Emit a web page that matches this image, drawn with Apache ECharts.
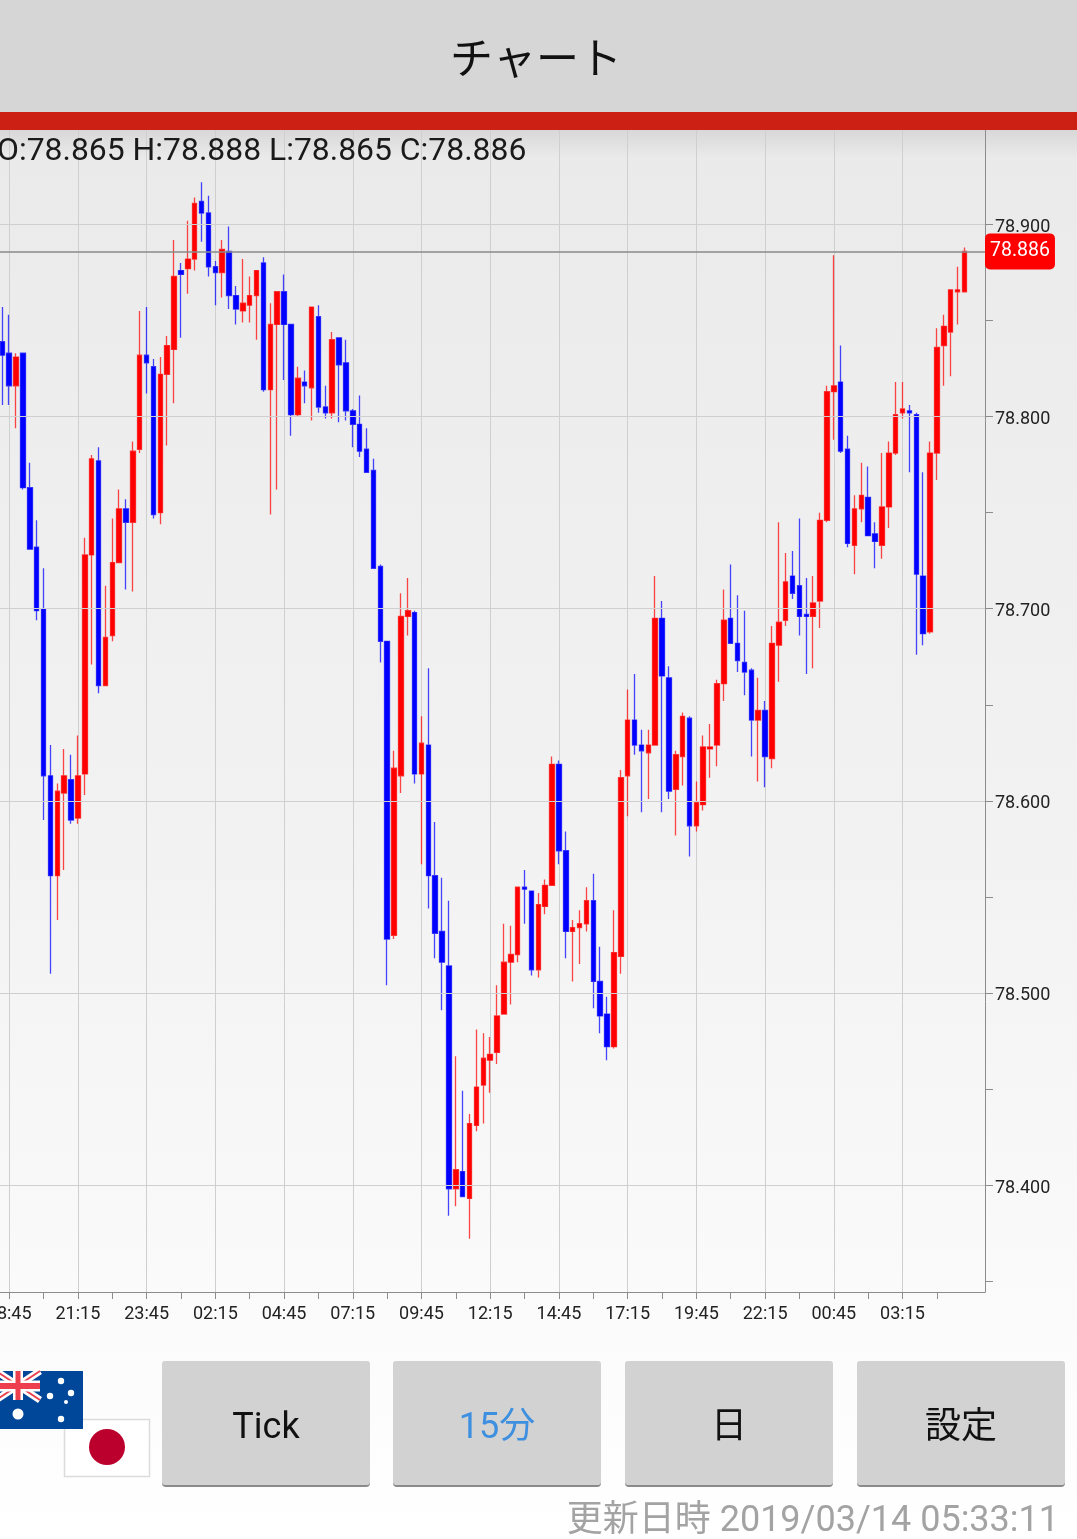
<!DOCTYPE html>
<html><head><meta charset="utf-8">
<style>html,body{margin:0;padding:0;background:#fff}#c{width:1077px;height:1539px}</style>
<script src="https://cdn.jsdelivr.net/npm/echarts@6/dist/echarts.min.js"></script>
</head><body><div id="c"></div>
<script>
const opens=[78.839,78.833,78.816,78.833,78.763,78.732,78.700,78.613,78.561,78.604,78.611,78.591,78.614,78.728,78.777,78.660,78.686,78.724,78.752,78.745,78.783,78.832,78.826,78.750,78.822,78.835,78.876,78.877,78.882,78.912,78.906,78.878,78.875,78.886,78.863,78.855,78.858,78.863,78.880,78.814,78.848,78.865,78.848,78.801,78.818,78.815,78.852,78.805,78.802,78.841,78.828,78.803,78.796,78.783,78.772,78.722,78.683,78.530,78.613,78.696,78.698,78.614,78.629,78.561,78.532,78.514,78.398,78.407,78.393,78.431,78.452,78.465,78.469,78.489,78.516,78.520,78.555,78.553,78.512,78.545,78.556,78.619,78.574,78.532,78.534,78.536,78.548,78.506,78.489,78.472,78.519,78.613,78.642,78.629,78.625,78.629,78.695,78.664,78.606,78.623,78.643,78.587,78.598,78.627,78.629,78.661,78.695,78.682,78.672,78.668,78.642,78.647,78.622,78.681,78.694,78.717,78.712,78.697,78.696,78.704,78.746,78.813,78.818,78.783,78.733,78.752,78.758,78.739,78.733,78.753,78.781,78.802,78.803,78.801,78.717,78.688,78.781,78.837,78.844,78.865,78.865];
const closes=[78.832,78.816,78.831,78.763,78.731,78.699,78.613,78.561,78.605,78.613,78.590,78.613,78.728,78.778,78.660,78.685,78.724,78.752,78.745,78.782,78.832,78.828,78.749,78.822,78.837,78.873,78.874,78.882,78.911,78.906,78.878,78.875,78.887,78.863,78.856,78.859,78.863,78.876,78.814,78.848,78.865,78.848,78.801,78.820,78.816,78.857,78.805,78.802,78.840,78.827,78.803,78.796,78.782,78.771,78.721,78.683,78.528,78.617,78.696,78.699,78.614,78.630,78.561,78.531,78.516,78.398,78.408,78.394,78.432,78.451,78.466,78.468,78.488,78.516,78.520,78.555,78.554,78.512,78.546,78.556,78.619,78.574,78.532,78.534,78.536,78.548,78.506,78.488,78.472,78.521,78.612,78.642,78.629,78.626,78.629,78.695,78.665,78.605,78.624,78.644,78.587,78.599,78.628,78.628,78.661,78.694,78.682,78.673,78.667,78.642,78.647,78.623,78.682,78.693,78.714,78.708,78.696,78.696,78.703,78.746,78.813,78.816,78.782,78.734,78.752,78.759,78.738,78.735,78.753,78.781,78.801,78.804,78.802,78.718,78.687,78.781,78.836,78.847,78.866,78.866,78.886];
const highs=[78.857,78.853,78.833,78.833,78.776,78.746,78.721,78.629,78.609,78.627,78.624,78.634,78.737,78.780,78.784,78.712,78.747,78.762,78.757,78.787,78.855,78.857,78.830,78.831,78.842,78.892,78.880,78.902,78.914,78.922,78.915,78.881,78.892,78.899,78.868,78.882,78.873,78.876,78.883,78.859,78.865,78.874,78.848,78.826,78.824,78.857,78.858,78.816,78.844,78.841,78.840,78.804,78.811,78.794,78.778,78.723,78.683,78.626,78.708,78.716,78.699,78.644,78.669,78.589,78.560,78.548,78.467,78.449,78.437,78.481,78.479,78.477,78.504,78.536,78.535,78.555,78.564,78.553,78.552,78.559,78.623,78.621,78.584,78.538,78.543,78.555,78.562,78.524,78.498,78.543,78.616,78.658,78.666,78.637,78.637,78.717,78.704,78.670,78.626,78.646,78.644,78.610,78.634,78.640,78.663,78.710,78.723,78.707,78.699,78.669,78.664,78.652,78.691,78.745,78.729,78.730,78.747,78.716,78.717,78.750,78.816,78.884,78.837,78.790,78.759,78.776,78.774,78.745,78.781,78.787,78.818,78.818,78.806,78.802,78.771,78.787,78.846,78.853,78.866,78.878,78.888];
const lows=[78.806,78.806,78.794,78.762,78.731,78.694,78.590,78.510,78.538,78.564,78.588,78.588,78.603,78.671,78.656,78.660,78.683,78.724,78.710,78.709,78.781,78.812,78.747,78.744,78.785,78.807,78.841,78.864,78.876,78.891,78.873,78.858,78.862,78.856,78.848,78.849,78.849,78.840,78.813,78.749,78.762,78.819,78.790,78.800,78.807,78.798,78.802,78.799,78.799,78.797,78.798,78.784,78.779,78.771,78.721,78.672,78.504,78.528,78.604,78.686,78.609,78.567,78.544,78.518,78.491,78.384,78.389,78.394,78.372,78.428,78.432,78.448,78.463,78.489,78.494,78.516,78.536,78.509,78.508,78.541,78.556,78.567,78.518,78.506,78.515,78.532,78.492,78.479,78.465,78.471,78.510,78.592,78.624,78.594,78.601,78.629,78.594,78.601,78.582,78.608,78.571,78.584,78.595,78.612,78.618,78.652,78.682,78.667,78.655,78.623,78.610,78.607,78.617,78.662,78.691,78.705,78.686,78.666,78.669,78.690,78.745,78.788,78.781,78.732,78.718,78.745,78.738,78.721,78.726,78.742,78.780,78.799,78.771,78.676,78.681,78.687,78.767,78.816,78.821,78.848,78.865];
const yGrid=[78.4,78.5,78.6,78.7,78.8,78.9];
const yTicks=[78.35,78.4,78.45,78.5,78.55,78.6,78.65,78.7,78.75,78.8,78.85,78.9];
const lastPrice=78.886;
const headerText='O:78.865 H:78.888 L:78.865 C:78.886';
const titleText='チャート';
const buttonLabels=['Tick','15分','日','設定'];
const footerText='更新日時 2019/03/14 05:33:11';
const firstSlotMinutes=18*60+15;   // leading off-screen slot, 15-minute bars
const slotCount=145;
const categories=[];
for(let i=0;i<slotCount;i++){const m=(firstSlotMinutes+15*i)%1440;categories.push(String(Math.floor(m/60)).padStart(2,'0')+':'+String(m%60).padStart(2,'0'));}
const lastDataSlot=opens.length; // slot index of final bar
const candleData=['-'].concat(opens.map((o,i)=>[o,closes[i],lows[i],highs[i]]));

const UI='Roboto,"Noto Sans CJK JP",sans-serif';
const g=[];
function rect(x,y,w,h,fill,z,extra){g.push(Object.assign({type:'rect',shape:{x,y,width:w,height:h},style:{fill},z,silent:true},extra||{}));}
function lg(stops){return new echarts.graphic.LinearGradient(0,0,0,1,stops);}
rect(0,130,1077,1409,lg([{offset:0,color:'#eaeaea'},{offset:.55,color:'#f3f3f3'},{offset:1,color:'#ffffff'}]),-20);
rect(0,130,1077,28,lg([{offset:0,color:'rgba(0,0,0,0.08)'},{offset:1,color:'rgba(0,0,0,0)'}]),-19);
rect(0,0,1077,112,'#d6d6d6',30);
rect(0,112,1077,18,'#cd2015',30);
function text(t,x,y,size,fill,align,z){g.push({type:'text',x,y,z:z||31,silent:true,style:{text:t,fill,font:size+'px '+UI,textAlign:align||'center',textVerticalAlign:'middle'}});}
text(titleText,536,63,43,'#111');
text(headerText,-3,152,31.9,'#1a1a1a','left');
const btnX=[162,393,625,857], btnW=207, btnColors=['#111','#3d8fe0','#111','#111'];
buttonLabels.forEach((b,i)=>{
  g.push({type:'rect',shape:{x:btnX[i],y:1362,width:btnW+1,height:125,r:4},style:{fill:'#8a8a8a'},z:30,silent:true});
  g.push({type:'rect',shape:{x:btnX[i],y:1361,width:btnW+1,height:124,r:3},style:{fill:'#d2d2d2'},z:31,silent:true});
  text(b,btnX[i]+btnW/2+.5,1429,36,btnColors[i],'center',32);
});
text(footerText,1059,1522,36,'#a3a3a3','right');
// Japan flag
rect(64.5,1419.5,85,57,'#fff',30,{style:{fill:'#fff',stroke:'#dcdcdc',lineWidth:1.5}});
g.push({type:'circle',shape:{cx:107,cy:1447,r:18},style:{fill:'#bc002d'},z:31,silent:true});
// Australia flag
rect(0,1371,83,58,'#00479a',32);
function ln(x1,y1,x2,y2,w,c){g.push({type:'line',shape:{x1,y1,x2,y2},style:{stroke:c,lineWidth:w},z:33,silent:true});}
ln(-4,1371,40,1400,7,'#fff');ln(-4,1400,40,1371,7,'#fff');
ln(-4,1371,40,1400,2,'#e8404f');ln(-4,1400,40,1371,2,'#e8404f');
rect(0,1380.5,40,11,'#fff',33);rect(13,1371,10,29,'#fff',33);
rect(0,1383,40,6,'#ee3f4f',34);rect(15.5,1371,5,29,'#ee3f4f',34);
[[61,1381,3.2],[71,1393,3.2],[50,1396,3.2],[61,1419,3.2],[66,1402,2],[18,1414,5.5]].forEach(s=>g.push({type:'circle',shape:{cx:s[0],cy:s[1],r:s[2]},style:{fill:'#fff'},z:34,silent:true}));

const isLabelSlot=i=>i%10===2&&i<=lastDataSlot;
const isTickSlot=i=>i%5===2&&i<=lastDataSlot;

const chart=echarts.init(document.getElementById('c'),null,{renderer:'canvas'});
chart.setOption({
  animation:false,
  backgroundColor:'transparent',
  graphic:{elements:g},
  grid:{left:-4.57,right:92,top:130,bottom:1539-1292,containLabel:false,outerBoundsMode:'none'},
  xAxis:{type:'category',data:categories,boundaryGap:false,
    axisLine:{show:true,lineStyle:{color:'#8c8c8c',width:1}},
    axisTick:{show:true,length:7,interval:(i)=>isTickSlot(i),lineStyle:{color:'#8c8c8c',width:1}},
    axisLabel:{show:true,interval:(i)=>isLabelSlot(i),margin:13,color:'#222',fontFamily:'Roboto',fontSize:18,hideOverlap:false},
    splitLine:{show:true,interval:(i)=>isLabelSlot(i),lineStyle:{color:'#cfcfcf',width:1}}},
  yAxis:{type:'value',position:'right',min:78.3443,max:78.9492,scale:true,
    axisLine:{show:true,lineStyle:{color:'#8c8c8c',width:1}},
    axisTick:{show:true,length:8,customValues:yTicks,lineStyle:{color:'#8c8c8c',width:1}},
    axisLabel:{show:true,customValues:yGrid,margin:10,formatter:v=>'{a|'+v.toFixed(3)+'}',
      rich:{a:{color:'#222',fontFamily:'Roboto',fontSize:18,padding:[6,0,0,0]}}},
    splitLine:{show:false}},
  series:[
    {type:'line',data:[],z:1,silent:true,symbol:'none',
     markLine:{silent:true,symbol:'none',animation:false,precision:3,label:{show:false},lineStyle:{color:'#cfcfcf',width:1,type:'solid'},data:yGrid.map(v=>({yAxis:v}))}},
    {type:'candlestick',data:candleData,barWidth:5,z:2,silent:true,clip:false,
     itemStyle:{color:'#ff0000',color0:'#0000ff',borderColor:'rgba(255,0,0,0.72)',borderColor0:'rgba(0,0,255,0.72)',borderWidth:1.3},
     markLine:{silent:true,symbol:'none',animation:false,precision:3,lineStyle:{color:'#8a8a8a',width:1.5,type:'solid'},
       label:{show:true,position:'end',distance:0,formatter:()=>lastPrice.toFixed(3),color:'#fff',backgroundColor:'#ff0000',borderRadius:5,padding:[10,5,6,5],fontFamily:'Roboto',fontSize:19.5},
       data:[{yAxis:lastPrice}]}}
  ]
});
</script></body></html>
